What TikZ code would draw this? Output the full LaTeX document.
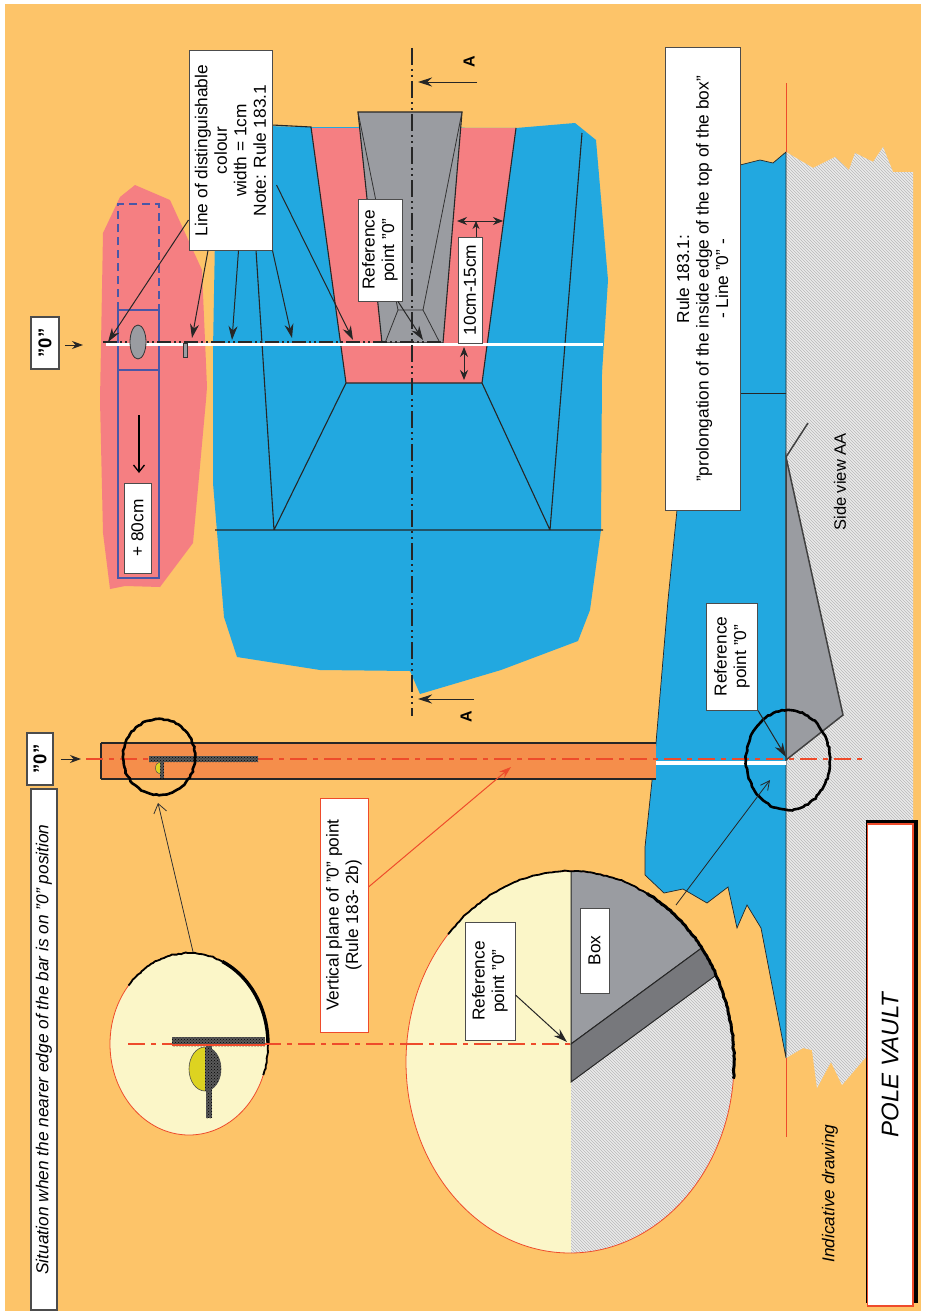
\documentclass[tikz,border=0pt]{standalone}
\usepackage{fontspec}
\setmainfont{Liberation Sans}
\usepackage{tikz}
\usetikzlibrary{arrows.meta,decorations.pathmorphing,patterns}
\definecolor{sandbg}{HTML}{FDC469}
\definecolor{matblue}{HTML}{22A8E0}
\definecolor{zonepink}{HTML}{F57F82}
\definecolor{boxgrey}{HTML}{9A9CA1}
\definecolor{banddark}{HTML}{77787C}
\definecolor{lenscream}{HTML}{FBF6C8}
\definecolor{stripbg}{HTML}{F58E4B}
\definecolor{planered}{HTML}{EE4B2B}
\definecolor{barblue}{HTML}{4A57A6}
\tikzstyle{notebox} = [draw=black!70, fill=white, line width=1pt, rotate=90, align=center, inner sep=0pt, font=\fontsize{17.3}{19.5}\selectfont]
\tikzstyle{redbox} = [notebox, draw=planered]
\tikzstyle{zerobox} = [notebox, line width=1.5pt, font=\fontsize{18.5}{20}\selectfont\bfseries]
\tikzstyle{plainlabel} = [rotate=90, align=center, inner sep=0pt, font=\fontsize{16.5}{20}\selectfont]
\tikzstyle{leader} = [draw=black!85, line width=1pt, -{Stealth[length=14pt,width=9pt]}]
\tikzstyle{openarrow} = [draw=black!80, line width=0.8pt, {Straight Barb[length=9pt,width=13pt]}-{Straight Barb[length=9pt,width=13pt]}]
\tikzstyle{outline} = [draw=black!85, line width=1.1pt]
\tikzstyle{axisline} = [draw=black!85, line width=1.8pt, dash pattern=on 17pt off 4pt on 2pt off 4pt on 2pt off 4pt]
\tikzstyle{planeline} = [draw=planered, line width=1.8pt, dash pattern=on 17pt off 6pt on 5pt off 6pt]
\tikzstyle{rough} = [draw=black, decorate, decoration={random steps,segment length=3pt,amplitude=0.7pt}]
\tikzstyle{hatchzone} = [pattern=north west lines, pattern color=black!28]
\tikzstyle{barzone} = [fill=black!65, postaction={pattern=crosshatch dots, pattern color=black}]
\begin{document}
\begin{tikzpicture}[x=1pt,y=-1pt]
\useasboundingbox (0,0) rectangle (928,1314);
\fill[sandbg] (5,4) rectangle (921,1311);

\fill[zonepink] (103,233) -- (120,197) -- (135,185) -- (170,200) -- (202,270) -- (207,387) -- (206,400) -- (193,543) -- (160,587) -- (125,586) -- (110,589) -- (103,533) -- (100,400) -- cycle;
\draw[barblue, line width=2.4pt, dash pattern=on 8pt off 5pt] (118,310) -- (118,204) -- (159,204) -- (159,310);
\draw[barblue, line width=2.4pt] (118,310) rectangle (159,578);
\draw[barblue, line width=2.4pt] (118,370) -- (159,370);

\fill[matblue] (217,125) -- (311,127) -- (516,128) -- (575,123) -- (596,140) -- (608,280) -- (602,373) -- (601,530) -- (590,610) -- (578,641) -- (501,670) -- (420,694) -- (410,671) -- (320,670) -- (237,657) -- (224,617) -- (213,483) -- (213,350) -- cycle;
\fill[zonepink] (311,128) -- (516,128) -- (482,383) -- (346,383) -- cycle;
\draw[outline] (272,125) -- (311,127) -- (346,383) -- (482,383) -- (516,128);
\draw[outline] (346,383) -- (274,530) (482,383) -- (550,530) (256,250) -- (274,530) (582,133) -- (550,530) (215,530) -- (603,530);

\filldraw[fill=boxgrey, outline] (358,112) -- (462,112) -- (443,343) -- (382,343) -- cycle;
\draw[draw=black!80, line width=0.8pt] (358,112) -- (398,310) -- (423,310) -- (462,112) (398,310) -- (385,343) (423,310) -- (440,343);

\draw[white, line width=3pt] (106,344) -- (603,344);
\draw[axisline, line width=1.3pt, dash pattern=on 14pt off 3pt on 2pt off 3pt on 2pt off 3pt] (103,342) -- (443,342);
\filldraw[fill=boxgrey, draw=black!80, line width=0.8pt] (138,342) ellipse [x radius=8, y radius=17];
\filldraw[fill=boxgrey, draw=black!80, line width=0.7pt] (183.5,343) rectangle (187,357);
\draw[black, line width=1.3pt, -{Straight Barb[length=7pt,width=11pt]}] (139,415) -- (139,473);

\coordinate (plantop) at (412,48);
\coordinate (planbottom) at (412,716);
\draw[axisline] (plantop) -- (planbottom);
\coordinate (atop) at (418,82);
\coordinate (abottom) at (418,699);
\node[plainlabel, font=\fontsize{16}{20}\selectfont\bfseries] (atoplabel) at (469,62) {A};
\node[plainlabel, font=\fontsize{16}{20}\selectfont\bfseries] (abottomlabel) at (466,717) {A};
\draw[leader] (477,82) -- (atop);
\draw[leader] (474,699) -- (abottom);

\fill[white!92!black] (786,152) -- (813,168) -- (835,157) -- (849,170) -- (855,153) -- (873,162) -- (883,147) -- (893,172) -- (913,172) -- (913,823) -- (866,823) -- (866,1057) -- (842,1085) -- (831,1062) -- (817,1088) -- (812,1050) -- (803,1048) -- (786,1058) -- cycle;
\fill[hatchzone] (786,152) -- (813,168) -- (835,157) -- (849,170) -- (855,153) -- (873,162) -- (883,147) -- (893,172) -- (913,172) -- (913,823) -- (866,823) -- (866,1057) -- (842,1085) -- (831,1062) -- (817,1088) -- (812,1050) -- (803,1048) -- (786,1058) -- cycle;
\filldraw[fill=matblue, draw=black!85, line width=0.7pt] (677,510) -- (674,540) -- (668,600) -- (656,743) -- (645,847) -- (645,875) -- (664,893) -- (683,889) -- (707,903) -- (728,887) -- (737,928) -- (747,905) -- (761,928) -- (786,1058) -- (786,152) -- (773,163) -- (760,160) -- (740,165) -- (677,165) -- cycle;
\draw[draw=black!85, line width=0.8pt] (665,393) -- (786,393);
\draw[planered, line width=0.4pt] (786,83) -- (786,152) (786,1058) -- (786,1137);
\filldraw[fill=boxgrey, draw=black!75, line width=1.5pt] (786,457) -- (843,715) -- (786,760) -- cycle;
\draw[draw=black!75, line width=1.5pt] (786,457) -- (808,423);

\fill[stripbg] (101,743) rectangle (656,779);
\draw[outline] (101,743) -- (656,743) (101,779) -- (656,779) (101,743) -- (101,779);
\draw[white, line width=3.5pt] (656,763) -- (786,763);

\coordinate (planestart) at (86,759);
\coordinate (planeend) at (863,759);
\draw[planeline] (planestart) -- (planeend);
\fill[barzone] (149,756) rectangle (258,762);
\fill[barzone] (160,762) rectangle (164,778);
\filldraw[fill=yellow!85!black, draw=black!70, line width=0.5pt] (160,762) arc[start angle=-90, end angle=-270, x radius=4.5, y radius=6];
\draw[rough, line width=2.6pt] (159,757) ellipse [x radius=36, y radius=38];
\draw[rough, line width=2.6pt] (788,760) ellipse [x radius=42, y radius=50];

\coordinate (smalllens) at (158,803);
\coordinate (biglens) at (198,973);
\draw[openarrow] (smalllens) -- (biglens);

\filldraw[fill=lenscream, draw=planered, line width=0.8pt] (189,1044) ellipse [x radius=79, y radius=91];
\draw[rough, line width=1.8pt] plot[domain=-140:20, samples=50] ({189+79*cos(\x)},{1044+91*sin(\x)});
\draw[rough, line width=3.4pt] plot[domain=-65:0, samples=25] ({189+79*cos(\x)},{1044+91*sin(\x)});
\draw[planeline] (128,1044) -- (570,1044);
\fill[barzone] (172,1037) rectangle (265,1046);
\draw[planered, line width=1.5pt] (172,1045) -- (265,1045);
\fill[barzone] (206,1046) rectangle (212,1118);
\filldraw[fill=yellow!85!black, draw=black!70, line width=0.6pt] (205,1047) arc[start angle=-90, end angle=-270, x radius=16, y radius=22];
\fill[barzone] (205,1047) arc[start angle=-90, end angle=90, x radius=16, y radius=22] -- cycle;
\draw[draw=black!70, line width=0.6pt] (205,1047) arc[start angle=-90, end angle=90, x radius=16, y radius=22];

\begin{scope}
\clip (570,1062) ellipse [x radius=164, y radius=191];
\fill[lenscream] (400,860) rectangle (571,1260);
\fill[white!92!black] (571,860) rectangle (740,1260);
\fill[hatchzone] (571,860) rectangle (740,1260);
\filldraw[fill=boxgrey, draw=black!85, line width=1pt] (571,1044) -- (571,860) -- (740,860) -- (703,947) -- cycle;
\filldraw[fill=banddark, draw=black!85, line width=1pt] (571,1044) -- (703,947) -- (719,973) -- (571,1082) -- cycle;
\end{scope}
\draw[planered, line width=0.8pt] (570,1062) ellipse [x radius=164, y radius=191];
\draw[planeline] (406,1044) -- (571,1044);
\draw[rough, line width=1.8pt] plot[domain=-138:-50, samples=40] ({570+164*cos(\x)},{1062+191*sin(\x)});
\draw[rough, line width=3pt] plot[domain=-62:5, samples=40] ({570+164*cos(\x)},{1062+191*sin(\x)});

\node[notebox, minimum width=199pt, minimum height=83pt] (linelabel) at (230.5,150.5) {Line of distinguishable\\colour\\width = 1cm\\Note: Rule 183.1};
\node[notebox, minimum width=102pt, minimum height=44pt] (refplan) at (380,250) {Reference\\point "0"};
\node[notebox, minimum width=106pt, minimum height=24pt] (gaplabel) at (470,290) {10cm-15cm};
\node[notebox, minimum width=90pt, minimum height=27pt] (addlabel) at (137.5,528) {+ 80cm};
\node[notebox, minimum width=462pt, minimum height=75pt] (rulelabel) at (702.5,279) {Rule 183.1:\\"prolongation of the inside edge of the top of the box"\\- Line "0" -};
\node[notebox, minimum width=107pt, minimum height=51pt] (refside) at (732,656.5) {Reference\\point "0"};
\node[redbox, minimum width=234pt, minimum height=48pt] (planelabel) at (344,915) {Vertical plane of "0" point\\(Rule 183- 2b)};
\node[notebox, minimum width=118pt, minimum height=50pt] (refbig) at (490,981) {Reference\\point "0"};
\node[notebox, minimum width=85pt, minimum height=29pt] (boxlabel) at (594.5,950.5) {Box};
\node[zerobox, minimum width=52pt, minimum height=26pt] (zeroside) at (40,759) {"0"};
\node[zerobox, minimum width=52pt, minimum height=28pt] (zerotop) at (45,343) {"0"};
\node[notebox, line width=1.5pt, minimum width=521pt, minimum height=26pt, font=\fontsize{17.3}{19.5}\selectfont\itshape] (situation) at (44,1049.5) {Situation when the nearer edge of the bar is on "0" position};
\node[plainlabel] (sideview) at (840,482) {Side view AA};
\node[plainlabel, font=\fontsize{17.2}{20}\selectfont\itshape] (indicative) at (830,1193.5) {Indicative drawing};
\fill[black] (866,820) rectangle (917.5,1303);
\node[redbox, minimum width=482pt, minimum height=45.5pt, font=\fontsize{24}{28}\selectfont\itshape, line width=1.5pt] (titlebox) at (890,1065) {POLE VAULT};

\draw[leader] ([yshift=-69.5pt]linelabel.north) -- (108,342);
\draw[leader] ([xshift=-22.5pt]linelabel.west) -- (192,338);
\draw[leader] ([xshift=8pt]linelabel.west) -- (232,340);
\draw[leader] ([xshift=42pt]linelabel.west) -- (292,338);
\draw[leader] ([xshift=4pt,yshift=-34.5pt]linelabel.south) -- (353,340);
\draw[leader] ([xshift=18pt]refplan.west) -- (423,340);
\draw[leader, -{Stealth[length=8pt,width=7pt]}] ([xshift=6pt]gaplabel.east) -- (476,221);
\draw[black!85, line width=1pt, {Stealth[length=10pt,width=8pt]}-{Stealth[length=10pt,width=8pt]}] (457,221) -- (503,221);
\draw[black!85, line width=1pt, {Stealth[length=10pt,width=8pt]}-{Stealth[length=10pt,width=8pt]}] (464,347) -- (464,380);
\draw[leader, -{Stealth[length=11pt,width=8pt]}] ([xshift=7pt]zeroside.south) -- (81,759);
\draw[leader, -{Stealth[length=11pt,width=8pt]}] ([xshift=5pt,yshift=-2pt]zerotop.south) -- (83,345);
\draw[leader] (refside.south west) -- (786,757);
\draw[leader] ([yshift=-14pt]refbig.south) -- (567,1042);
\draw[black!85, line width=0.8pt, -{Straight Barb[length=9pt,width=9pt]}] (676,905) -- (770,780);
\draw[planered, line width=1pt, -{Stealth[length=12pt,width=8pt]}] ([yshift=28pt]planelabel.south) -- (511,767);
\end{tikzpicture}
\end{document}
